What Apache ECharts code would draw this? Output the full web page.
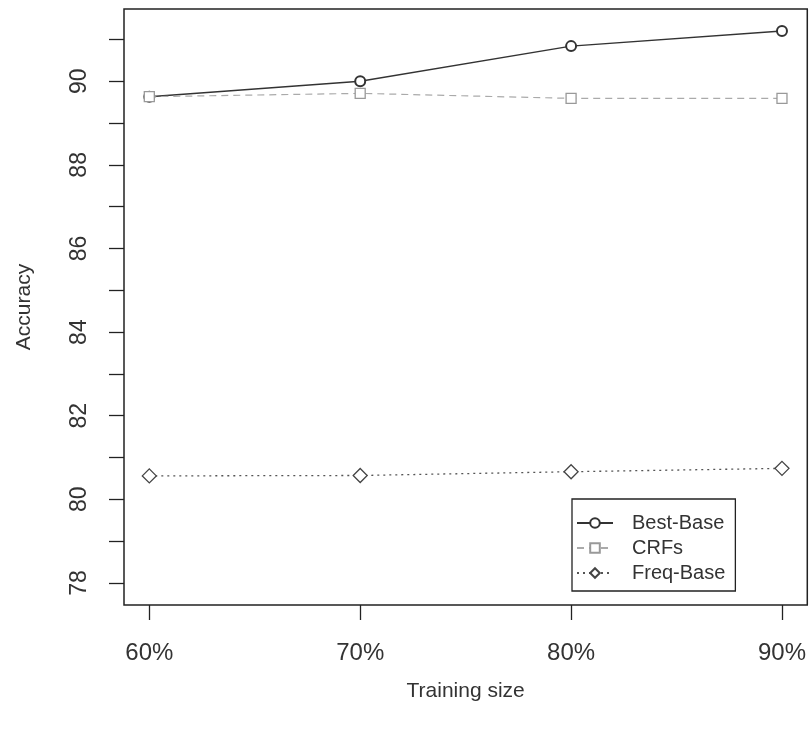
<!DOCTYPE html>
<html>
<head>
<meta charset="utf-8">
<script src="https://cdn.jsdelivr.net/npm/echarts@6/dist/echarts.min.js"></script>
<style>
html,body{margin:0;padding:0;background:#fff;}
#c{width:809px;height:729px;}
</style>
</head>
<body>
<div id="c"></div>
<script>
const trainingSizes = [60, 70, 80, 90];
const bestBase = [89.63, 90.00, 90.84, 91.20];
const crfs = [89.63, 89.71, 89.59, 89.59];
const freqBase = [80.56, 80.57, 80.66, 80.74];
const yTicks = [78, 79, 80, 81, 82, 83, 84, 85, 86, 87, 88, 89, 90, 91];
const yLabels = [78, 80, 82, 84, 86, 88, 90];
const xTicks = [60, 70, 80, 90];

const FONT = 'Liberation Sans, Arial, sans-serif';
const pair = arr => trainingSizes.map((x, i) => [x, arr[i]]);

const chart = echarts.init(document.getElementById('c'), null, {renderer: 'canvas'});
chart.setOption({
  backgroundColor: '#ffffff',
  animation: false,
  grid: {left: 124, top: 9, width: 686, height: 596, show: true, borderColor: '#222', borderWidth: 1.5, backgroundColor: 'transparent'},
  xAxis: {
    type: 'value', min: 58.8, max: 91.2,
    name: 'Training size', nameLocation: 'middle', nameGap: 76,
    nameTextStyle: {fontFamily: FONT, fontSize: 21, color: '#333'},
    axisLine: {show: false},
    axisTick: {show: true, length: 15, lineStyle: {color: '#222', width: 1.3}, customValues: xTicks},
    axisLabel: {customValues: xTicks, formatter: v => v + '%', fontFamily: FONT, fontSize: 24, color: '#333', margin: 36},
    splitLine: {show: false}
  },
  yAxis: {
    type: 'value', min: 77.472, max: 91.728,
    name: 'Accuracy', nameLocation: 'middle', nameGap: 89,
    nameTextStyle: {fontFamily: FONT, fontSize: 21, color: '#333'},
    axisLine: {show: false},
    axisTick: {show: true, length: 15, lineStyle: {color: '#222', width: 1.3}, customValues: yTicks},
    axisLabel: {customValues: yLabels, rotate: 90, fontFamily: FONT, fontSize: 23, color: '#333', margin: 33},
    splitLine: {show: false}
  },
  legend: {
    orient: 'vertical', left: 572, top: 499,
    width: 150,
    borderColor: '#222', borderWidth: 1.3, padding: [14, 10, 8, 4],
    itemWidth: 36, itemHeight: 12, itemGap: 5,
    textStyle: {fontFamily: FONT, fontSize: 20, color: '#333', padding: [0, 0, 0, 14]},
    data: ['Best-Base', 'CRFs', 'Freq-Base']
  },
  series: [
    {
      name: 'Best-Base', type: 'line', data: pair(bestBase),
      symbol: 'emptyCircle', symbolSize: 10,
      lineStyle: {color: '#333', width: 1.5, type: 'solid'},
      itemStyle: {color: '#333', borderColor: '#333', borderWidth: 1.3}
    },
    {
      name: 'CRFs', type: 'line', data: pair(crfs),
      symbol: 'rect', symbolSize: 10,
      lineStyle: {color: '#aaa', width: 1.2, type: [7, 5]},
      itemStyle: {color: '#fff', borderColor: '#999', borderWidth: 1.3}
    },
    {
      name: 'Freq-Base', type: 'line', data: pair(freqBase),
      symbol: 'diamond', symbolSize: 14,
      lineStyle: {color: '#555', width: 1.3, type: [2, 4]},
      itemStyle: {color: '#fff', borderColor: '#444', borderWidth: 1.3}
    }
  ]
});
</script>
</body>
</html>
